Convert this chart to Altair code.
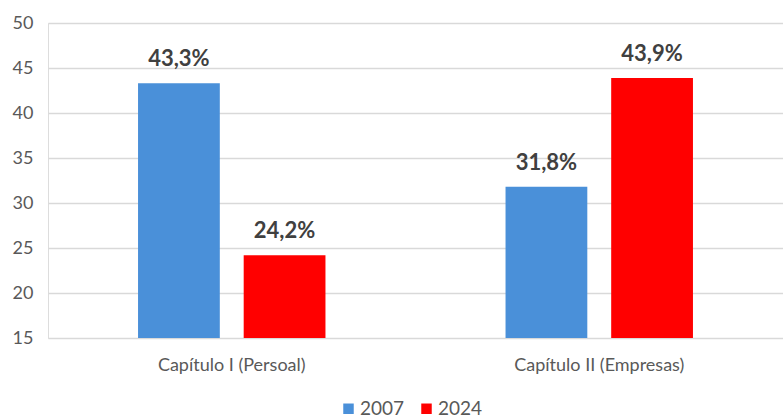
import altair as alt
import pandas as pd

categories = ["Capítulo I (Persoal)", "Capítulo II (Empresas)"]
years = ["2007", "2024"]
values_2007 = [43.3, 31.8]
values_2024 = [24.2, 43.9]
colors = ["#4A90D9", "#FF0000"]

rows = []
for i, c in enumerate(categories):
    rows.append({"cat": c, "year": years[0], "value": values_2007[i]})
    rows.append({"cat": c, "year": years[1], "value": values_2024[i]})
df = pd.DataFrame(rows)
df["label"] = df["value"].map(lambda v: f"{v:.1f}".replace(".", ",") + "%")

FONT = "Lato"

x = alt.X("cat:N", sort=categories, title=None,
          scale=alt.Scale(paddingInner=0.49, paddingOuter=0.245),
          axis=alt.Axis(labelAngle=0, domain=False, ticks=False, labelFontSize=18,
                        labelColor="#595959", labelFont=FONT, labelPadding=18, grid=False))
xo = alt.XOffset("year:N", sort=years,
                 scale=alt.Scale(paddingInner=0.226, paddingOuter=0))
y = alt.Y("value:Q", title=None,
          scale=alt.Scale(domain=[15, 50], nice=False, zero=False, clamp=True),
          axis=alt.Axis(values=[15, 20, 25, 30, 35, 40, 45, 50], domain=False, ticks=False,
                        labelFontSize=18, labelColor="#595959", labelFont=FONT,
                        labelPadding=15, gridColor="#D9D9D9", gridWidth=1.5))

base = alt.Chart(df)

bars = base.mark_bar().encode(
    x=x, xOffset=xo, y=y, y2=alt.datum(15),
    color=alt.Color("year:N", sort=years, title=None,
                    scale=alt.Scale(domain=years, range=colors),
                    legend=alt.Legend(orient="none", direction="horizontal",
                                      legendX=291, legendY=376,
                                      symbolType="square", symbolSize=110,
                                      symbolStrokeWidth=0, labelFontSize=19,
                                      labelColor="#595959", labelFont=FONT,
                                      labelOffset=2, columnPadding=12)),
)

labels = base.mark_text(baseline="alphabetic", dy=-17, fontSize=22, fontWeight="bold",
                        color="#404040", font=FONT).encode(
    x=x, xOffset=xo, y=y, text="label:N"
)

chart = alt.layer(bars, labels).properties(
    width=735, height=315,
    autosize=alt.AutoSizeParams(type="none"),
    padding={"left": 48, "top": 23, "right": 0, "bottom": 81},
).configure_view(stroke=None).configure(background="white")

chart.save("out.html", embed_options={"renderer": "svg", "actions": False})
